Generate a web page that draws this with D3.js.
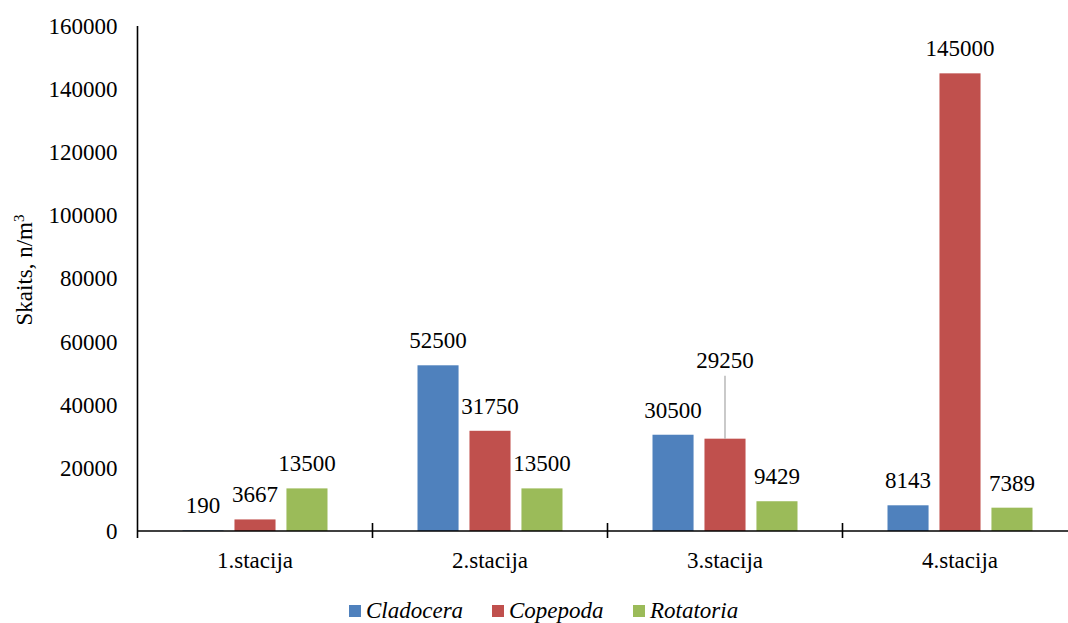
<!DOCTYPE html>
<html>
<head>
<meta charset="utf-8">
<script src="https://cdn.jsdelivr.net/npm/d3@7"></script>
</head>
<body style="margin:0">
<svg id="chart" width="1068" height="623"></svg>
<script>
// Zooplankton abundance per station
const stations = ["1.stacija", "2.stacija", "3.stacija", "4.stacija"];
const groups = ["Cladocera", "Copepoda", "Rotatoria"];
const cladocera = [190, 52500, 30500, 8143];
const copepoda = [3667, 31750, 29250, 145000];
const rotatoria = [13500, 13500, 9429, 7389];
const yTicks = [0, 20000, 40000, 60000, 80000, 100000, 120000, 140000, 160000];
const colors = ["#4F81BD", "#C0504D", "#9BBB59"];

const seriesValues = [cladocera, copepoda, rotatoria];
const FONT = "'Liberation Serif', serif";

const svg = d3.select("#chart");
const plotLeft = 137.5, plotRight = 1077.5, plotTop = 26, plotBottom = 531;
const clusterWidth = 145;

const x0 = d3.scaleBand().domain(stations).range([plotLeft, plotRight]).paddingInner(0).paddingOuter(0);
const x1 = d3.scaleBand().domain(groups).range([0, clusterWidth]).paddingInner(0.21).paddingOuter(0);
const y = d3.scaleLinear().domain([0, 160000]).range([plotBottom, plotTop]);

// Bars
const rows = [];
stations.forEach((s, i) => {
  groups.forEach((g, j) => rows.push({ station: s, group: g, gi: j, value: seriesValues[j][i] }));
});
const groupOffset = (x0.bandwidth() - clusterWidth) / 2;

svg.append("g").selectAll("rect").data(rows).join("rect")
  .attr("x", d => x0(d.station) + groupOffset + x1(d.group))
  .attr("y", d => y(d.value))
  .attr("width", x1.bandwidth())
  .attr("height", d => y(0) - y(d.value))
  .attr("fill", d => colors[d.gi]);

// Value labels; the 3rd-station Copepoda label is lifted with a leader line
const lifted = d => d.station === "3.stacija" && d.group === "Copepoda";
const barCenter = d => x0(d.station) + groupOffset + x1(d.group) + x1.bandwidth() / 2;
const labelY = d => y(d.value) - 17 - (lifted(d) ? 54 : 0);

svg.append("g").selectAll("line").data(rows.filter(lifted)).join("line")
  .attr("x1", barCenter).attr("x2", barCenter)
  .attr("y1", d => labelY(d) + 8).attr("y2", d => y(d.value))
  .attr("stroke", "#a6a6a6").attr("stroke-width", 1.2);

svg.selectAll("text.value").data(rows).join("text")
  .attr("class", "value")
  .attr("x", barCenter)
  .attr("y", labelY)
  .attr("text-anchor", "middle")
  .style("font-family", FONT)
  .style("font-size", "23px")
  .text(d => d.value);

// Y axis
const yAxis = d3.axisLeft(y).tickValues(yTicks).tickSize(0).tickPadding(20).tickFormat(d3.format("d"));
const gy = svg.append("g").attr("transform", `translate(${plotLeft},0)`).call(yAxis);
gy.select(".domain").remove();
gy.attr("font-family", null).attr("font-size", null);
gy.selectAll("text").style("font-family", FONT).style("font-size", "23px").attr("fill", "#000");
svg.append("line").attr("x1", plotLeft).attr("x2", plotLeft).attr("y1", plotTop).attr("y2", plotBottom + 7)
  .attr("stroke", "#000").attr("stroke-width", 1.6);

// X axis
const xAxis = d3.axisBottom(x0).tickSize(0).tickPadding(21);
const gx = svg.append("g").attr("transform", `translate(0,${plotBottom})`).call(xAxis);
gx.select(".domain").remove();
gx.attr("font-family", null).attr("font-size", null);
gx.selectAll("text").style("font-family", FONT).style("font-size", "23px").attr("fill", "#000").attr("dy", "0.71em");
svg.append("line").attr("x1", plotLeft).attr("x2", plotRight).attr("y1", plotBottom).attr("y2", plotBottom)
  .attr("stroke", "#000").attr("stroke-width", 1.6);
// Cross tick marks at band boundaries
const bounds = stations.slice(1).map(s => x0(s));
svg.append("g").selectAll("line").data(bounds).join("line")
  .attr("x1", d => d).attr("x2", d => d)
  .attr("y1", plotBottom - 8).attr("y2", plotBottom + 7)
  .attr("stroke", "#000").attr("stroke-width", 1.6);

// Y axis title
const title = svg.append("text")
  .attr("transform", "translate(32,270) rotate(-90)")
  .attr("text-anchor", "middle")
  .style("font-family", FONT)
  .style("font-size", "23px");
title.append("tspan").text("Skaits, n/m");
title.append("tspan").attr("dy", "-8").style("font-size", "15px").text("3");

// Legend
const legendX = [349, 492, 633];
const legend = svg.append("g").selectAll("g").data(groups).join("g")
  .attr("transform", (d, i) => `translate(${legendX[i]},605)`);
legend.append("rect").attr("width", 12).attr("height", 12).attr("fill", (d, i) => colors[i]);
legend.append("text").attr("x", 17).attr("y", 13)
  .style("font-family", FONT)
  .style("font-size", "23px").style("font-style", "italic")
  .text(d => d);
</script>
</body>
</html>
